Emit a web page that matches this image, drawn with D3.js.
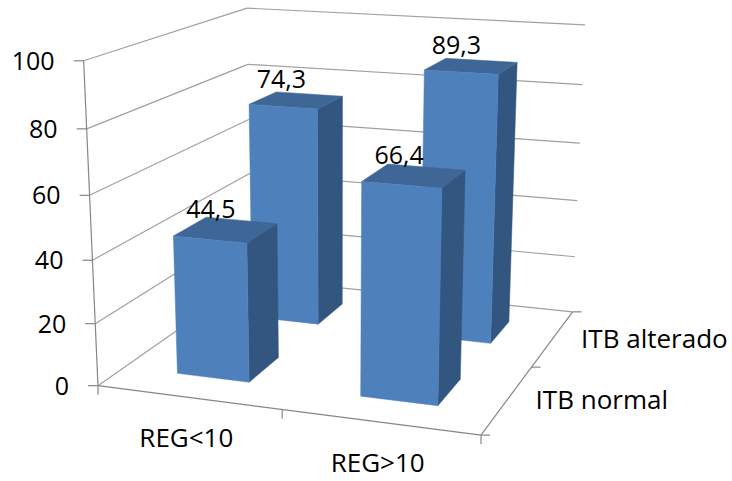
<!DOCTYPE html>
<html>
<head>
  <title>ITB por REG</title>
  <script src="https://cdn.jsdelivr.net/npm/d3@7"></script>
  <style>
    html, body { margin: 0; padding: 0; background: #fff; }
    svg { display: block; }
    text { font-family: "Open Sans", sans-serif; fill: #000; }
  </style>
</head>
<body>
  <div id="chart"></div>
  <script>
    const categories = ["REG<10", "REG>10"];
    const seriesNames = ["ITB normal", "ITB alterado"];
    const valuesNormal = [44.5, 66.4];
    const valuesAltered = [74.3, 89.3];
    const yTicks = [0, 20, 40, 60, 80, 100];

    const width = 732, height = 481;
    const fmt = v => String(v).replace(".", ",");

    // box corners on screen, used to fit the perspective camera: [x, y, z] -> [px, py]
    // x runs along the categories, y up the value axis, z into the depth
    const anchors = [
      [0, 0, 0, 97, 384], [1, 0, 0, 481.7, 436], [0, 1, 0, 84, 61.7],
      [1, 0, 1, 572, 311], [1, 1, 1, 585, 25], [0, 1, 1, 246.7, 7.3], [0, 0, 1, 252, 280]
    ];

    function solve(A, b) {
      const n = b.length, M = A.map((r, i) => [...r, b[i]]);
      for (let i = 0; i < n; i++) {
        let p = i;
        for (let k = i + 1; k < n; k++) if (Math.abs(M[k][i]) > Math.abs(M[p][i])) p = k;
        [M[i], M[p]] = [M[p], M[i]];
        for (let k = 0; k < n; k++) {
          if (k === i) continue;
          const f = M[k][i] / M[i][i];
          for (let j = i; j <= n; j++) M[k][j] -= f * M[i][j];
        }
      }
      return M.map((r, i) => r[n] / r[i]);
    }

    // least squares fit of the 11 camera parameters
    function fitCamera(pts) {
      const rows = [], rhs = [];
      pts.forEach(([x, y, z, u, v]) => {
        rows.push([x, y, z, 1, 0, 0, 0, 0, -u * x, -u * y, -u * z]); rhs.push(u);
        rows.push([0, 0, 0, 0, x, y, z, 1, -v * x, -v * y, -v * z]); rhs.push(v);
      });
      const idx = d3.range(11);
      const AtA = idx.map(i => idx.map(j => d3.sum(rows, r => r[i] * r[j])));
      const Atb = idx.map(i => d3.sum(rows, (r, k) => r[i] * rhs[k]));
      return solve(AtA, Atb);
    }

    const m = fitCamera(anchors);
    const project = (x, y, z) => {
      const w = m[8] * x + m[9] * y + m[10] * z + 1;
      return [(m[0] * x + m[1] * y + m[2] * z + m[3]) / w,
              (m[4] * x + m[5] * y + m[6] * z + m[7]) / w];
    };

    const xScale = d3.scaleBand().domain(categories).range([0, 1]).paddingInner(0.6).paddingOuter(0.3);
    const zScale = d3.scaleBand().domain(seriesNames).range([0, 1]).paddingInner(0.6).paddingOuter(0.3);
    const yScale = d3.scaleLinear().domain([0, 100]).range([0, 1]);

    const svg = d3.select("#chart").append("svg").attr("width", width).attr("height", height);
    const line = d3.line();

    const gridColor = "#a0a0a0", axisColor = "#868686";

    const seg = (a, b, color) => svg.append("path")
      .attr("d", line([a, b])).attr("fill", "none")
      .attr("stroke", color).attr("stroke-width", 1.2);

    // walls
    yTicks.forEach(t => {
      const y = yScale(t);
      seg(project(0, y, 0), project(0, y, 1), gridColor);
      seg(project(0, y, 1), project(1, y, 1), gridColor);
    });

    // axes and tick marks
    seg(project(0, 0, 0), project(0, 1, 0), axisColor);
    seg(project(0, 0, 0), project(1, 0, 0), axisColor);
    seg(project(1, 0, 0), project(1, 0, 1), axisColor);
    yTicks.forEach(t => {
      const [px, py] = project(0, yScale(t), 0);
      seg([px - 10, py], [px, py], axisColor);
      svg.append("text").attr("x", px - 29).attr("y", py + 9)
        .attr("text-anchor", "end").attr("font-size", 25).text(t);
    });
    [0, 0.5, 1].forEach(t => {
      const [px, py] = project(t, 0, 0);
      seg([px, py], [px, py + 9], axisColor);
    });
    [0, 0.5, 1].forEach(t => {
      const [px, py] = project(1, 0, t);
      seg([px, py], [px + 9, py], axisColor);
    });

    // bars, back row first
    const faceFront = "#4e80bc", faceSide = "#325680", faceTop = "#3e6696";
    const rows = [
      { name: seriesNames[1], values: valuesAltered },
      { name: seriesNames[0], values: valuesNormal }
    ];
    const poly = (pts, color) => svg.append("path")
      .attr("d", line(pts) + "Z").attr("fill", color).attr("stroke", color).attr("stroke-width", 0.5);

    rows.forEach(row => {
      categories.forEach((cat, i) => {
        const x0 = xScale(cat), x1 = x0 + xScale.bandwidth();
        const z0 = zScale(row.name), z1 = z0 + zScale.bandwidth();
        const h = yScale(row.values[i]);
        poly([project(x1, 0, z0), project(x1, 0, z1), project(x1, h, z1), project(x1, h, z0)], faceSide);
        poly([project(x0, h, z0), project(x1, h, z0), project(x1, h, z1), project(x0, h, z1)], faceTop);
        poly([project(x0, 0, z0), project(x1, 0, z0), project(x1, h, z0), project(x0, h, z0)], faceFront);
      });
    });

    // value labels above each bar
    rows.forEach(row => {
      categories.forEach((cat, i) => {
        const [px, py] = project(xScale(cat) + xScale.bandwidth() / 2, yScale(row.values[i]),
          zScale(row.name) + zScale.bandwidth() / 2);
        svg.append("text").attr("x", px - 15).attr("y", py - 12)
          .attr("text-anchor", "middle").attr("font-size", 25).text(fmt(row.values[i]));
      });
    });

    // category labels
    categories.forEach(cat => {
      const [px, py] = project(xScale(cat) + xScale.bandwidth() / 2, 0, 0);
      svg.append("text").attr("x", px - 2).attr("y", py + 50)
        .attr("text-anchor", "middle").attr("font-size", 26).text(cat);
    });

    // depth labels
    seriesNames.forEach(name => {
      const [px, py] = project(1, 0, zScale(name) + zScale.bandwidth() / 2);
      svg.append("text").attr("x", px + 28).attr("y", py + 10)
        .attr("font-size", 26).text(name);
    });
  </script>
</body>
</html>
